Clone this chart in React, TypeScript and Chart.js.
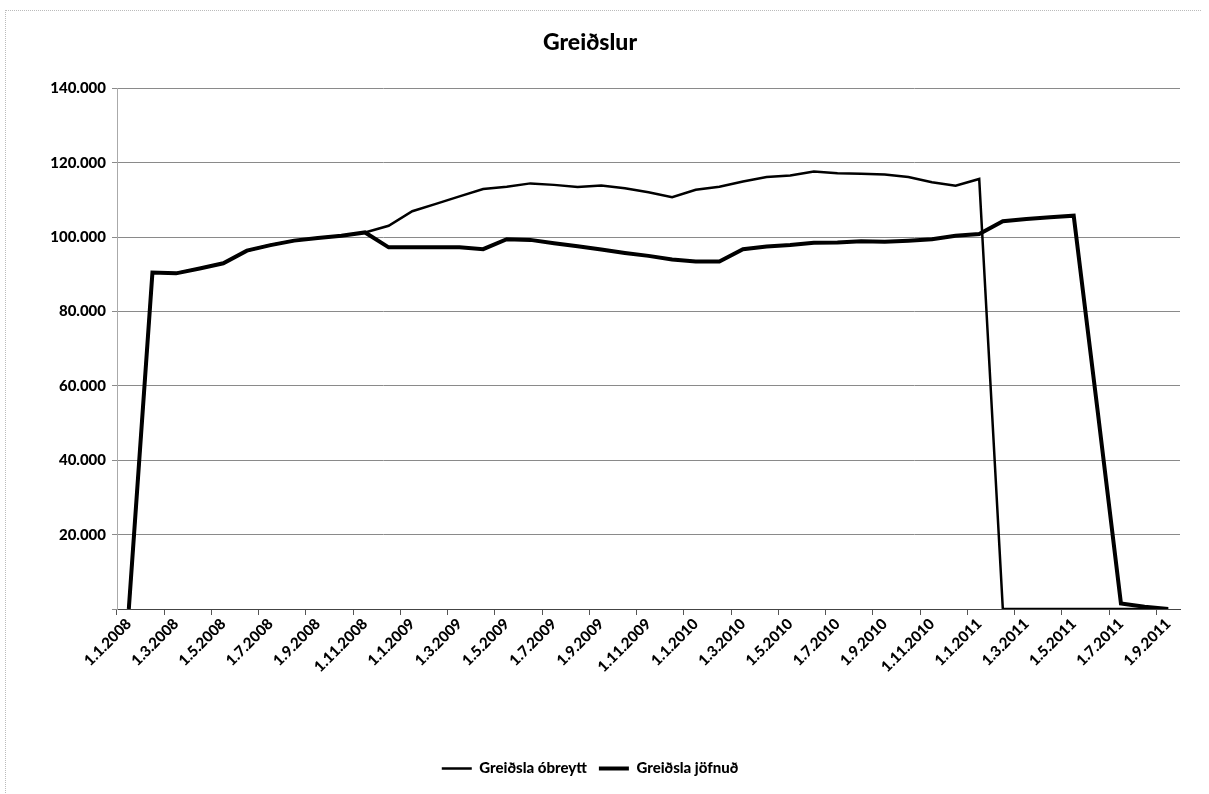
import React, { useEffect, useRef } from 'react';
import { Chart, registerables } from 'chart.js';

Chart.register(...registerables);

const categories: string[] = [
  '1.1.2008', '1.2.2008', '1.3.2008', '1.4.2008', '1.5.2008', '1.6.2008', '1.7.2008', '1.8.2008', '1.9.2008', '1.10.2008', '1.11.2008', '1.12.2008',
  '1.1.2009', '1.2.2009', '1.3.2009', '1.4.2009', '1.5.2009', '1.6.2009', '1.7.2009', '1.8.2009', '1.9.2009', '1.10.2009', '1.11.2009', '1.12.2009',
  '1.1.2010', '1.2.2010', '1.3.2010', '1.4.2010', '1.5.2010', '1.6.2010', '1.7.2010', '1.8.2010', '1.9.2010', '1.10.2010', '1.11.2010', '1.12.2010',
  '1.1.2011', '1.2.2011', '1.3.2011', '1.4.2011', '1.5.2011', '1.6.2011', '1.7.2011', '1.8.2011', '1.9.2011',
];

const greidslaObreytt: number[] = [
  0, 90500, 90300, 91600, 93000, 96400, 97900, 99100, 99800, 100400, 101300, 103100,
  107000, 109000, 111000, 113000, 113600, 114500, 114100, 113500, 113900, 113200, 112100, 110800,
  112800, 113600, 115000, 116200, 116600, 117700, 117200, 117100, 116900, 116200, 114800, 113900,
  115700, 0, 0, 0, 0, 0, 0, 0, 0,
];

const greidslaJofnud: number[] = [
  0, 90500, 90300, 91600, 93000, 96400, 97900, 99100, 99800, 100400, 101300, 97300,
  97300, 97300, 97300, 96800, 99500, 99300, 98400, 97600, 96700, 95800, 95000, 94000,
  93500, 93500, 96800, 97500, 97900, 98500, 98600, 98900, 98800, 99100, 99500, 100400,
  100900, 104300, 104900, 105400, 105800, 54000, 1500, 600, 0,
];

const yMax = 140000;
const yStep = 20000;

const seriesNames = ['Greiðsla óbreytt', 'Greiðsla jöfnuð'];

function formatThousands(v: number): string {
  if (v === 0) return '';
  const s = Math.round(v).toString();
  return s.replace(/\B(?=(\d{3})+(?!\d))/g, '.');
}

const FONT = 'Lato, "Open Sans", sans-serif';

export default function App() {
  const canvasRef = useRef<HTMLCanvasElement | null>(null);

  useEffect(() => {
    document.body.style.margin = '0';
    const canvas = canvasRef.current;
    if (!canvas) return;
    const chart = new Chart(canvas, {
      type: 'line',
      data: {
        labels: categories,
        datasets: [
          {
            label: seriesNames[0],
            data: greidslaObreytt,
            borderColor: '#000000',
            backgroundColor: '#000000',
            borderWidth: 2.5,
            pointRadius: 0,
            tension: 0,
          },
          {
            label: seriesNames[1],
            data: greidslaJofnud,
            borderColor: '#000000',
            backgroundColor: '#000000',
            borderWidth: 4,
            pointRadius: 0,
            tension: 0,
          },
        ],
      },
      options: {
        animation: false,
        responsive: false,
        maintainAspectRatio: false,
        layout: { padding: { left: 0, right: 29, top: 0, bottom: 8 } },
        plugins: {
          title: {
            display: true,
            text: 'Greiðslur',
            color: '#000',
            font: { family: FONT, size: 23, weight: '900' },
            padding: { top: 29, bottom: 32 },
          },
          legend: {
            display: true,
            position: 'bottom',
            labels: {
              color: '#000',
              font: { family: FONT, size: 15, weight: '900' },
              usePointStyle: true,
              pointStyle: 'line',
              pointStyleWidth: 30,
              boxHeight: 15,
              padding: 12,
            },
          },
          tooltip: { enabled: false },
        },
        scales: {
          x: {
            type: 'category',
            offset: true,
            afterFit: (scale: any) => {
              scale.height = 140;
            },
            grid: {
              offset: true,
              drawOnChartArea: false,
              drawTicks: true,
              tickLength: 6,
              color: (ctx: any) => (ctx.index % 2 === 0 ? '#555' : 'rgba(0,0,0,0)'),
            },
            border: { display: true, color: '#444', width: 1 },
            ticks: {
              autoSkip: false,
              minRotation: 45,
              maxRotation: 45,
              padding: 0,
              color: '#000',
              font: { family: FONT, size: 15, weight: '900' },
              callback: (_v: any, i: number) => (i % 2 === 0 ? categories[i] : ''),
            },
          },
          y: {
            min: 0,
            max: yMax,
            afterFit: (scale: any) => {
              scale.width = 117;
            },
            grid: {
              color: '#8a8a8a',
              lineWidth: 1,
              drawTicks: true,
              tickLength: 5,
            },
            border: { display: true, color: '#aaa', width: 1 },
            ticks: {
              stepSize: yStep,
              padding: 6,
              color: '#000',
              font: { family: FONT, size: 15, weight: '900' },
              callback: (v: any) => formatThousands(Number(v)),
            },
          },
        },
      },
    });
    return () => chart.destroy();
  }, []);

  return (
    <div style={{ position: 'relative', width: 1209, height: 794, background: '#fff' }}>
      <canvas ref={canvasRef} width={1209} height={794} style={{ display: 'block' }} />
      <div
        style={{
          position: 'absolute',
          left: 5,
          top: 10,
          width: 1195,
          height: 790,
          borderTop: '1px dotted #bbb',
          borderLeft: '1px dotted #bbb',
          pointerEvents: 'none',
        }}
      />
    </div>
  );
}
